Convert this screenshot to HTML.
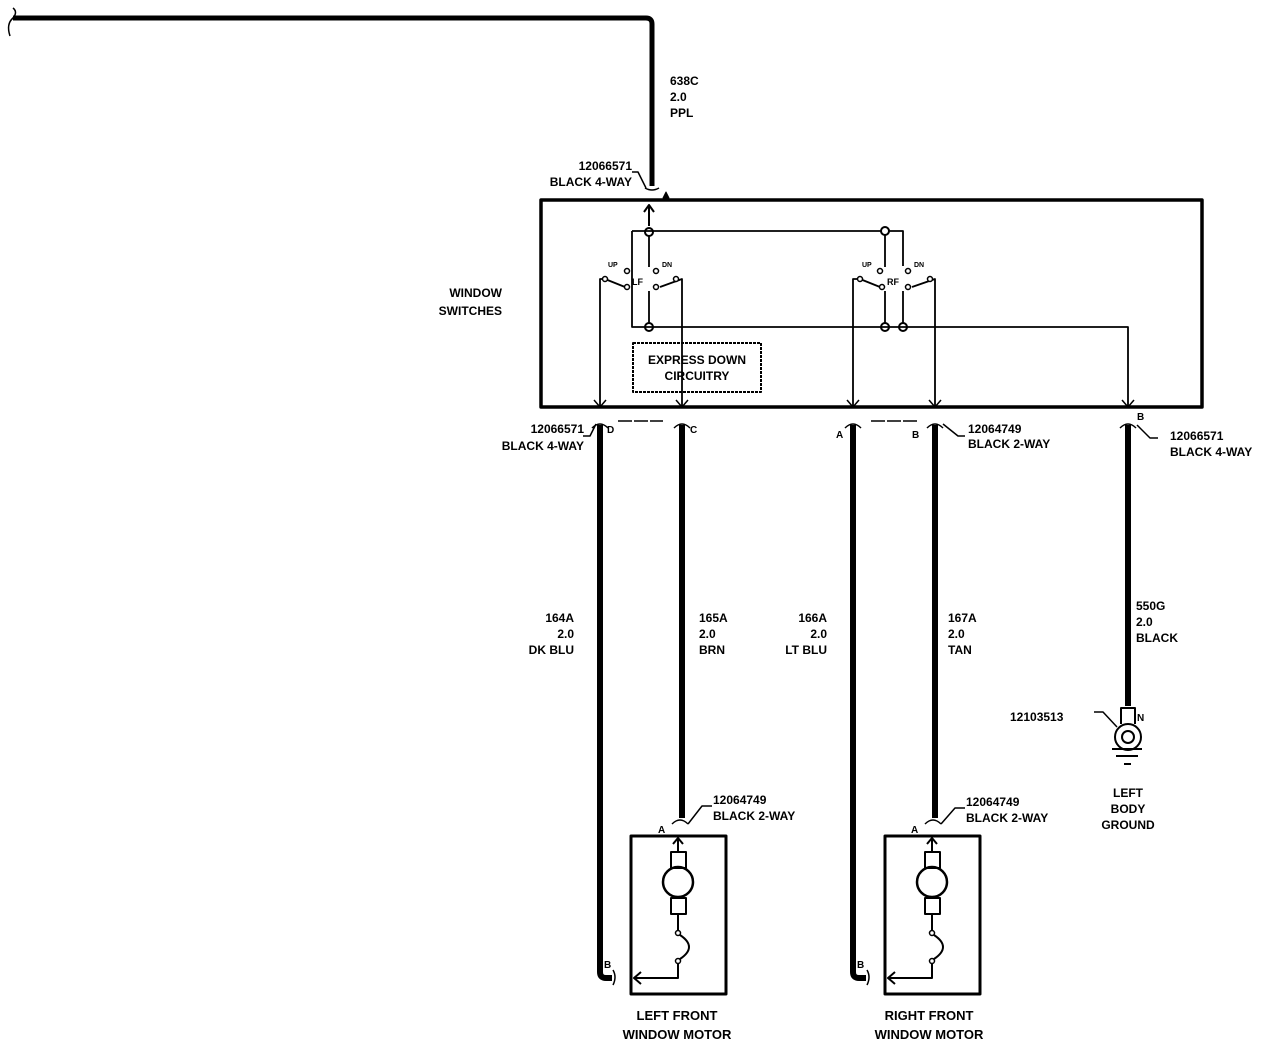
<!DOCTYPE html>
<html><head><meta charset="utf-8"><style>
html,body{margin:0;padding:0;background:#fff;}
svg{display:block}
text{font-family:"Liberation Sans",sans-serif;font-size:12px;font-weight:bold;fill:#000;}
</style></head><body>
<svg width="1280" height="1048" viewBox="0 0 1280 1048" xmlns="http://www.w3.org/2000/svg">
<g fill="none" stroke="#000" stroke-linejoin="round">
<path d="M13,18 H646 Q652,18 652,24 V186" stroke-width="5"/>
<path d="M13,8 Q18,12 13,18 M13,18 Q6,24 10,36" stroke-width="1.5"/>
<path d="M632,172 L638,172 L646,188 M645,188 Q652,192 659,188" stroke-width="1.5"/>
<path d="M663,198 L666,192 L669,198 Z" fill="#000" stroke-width="1"/>
<rect x="541" y="200" width="661" height="207" stroke-width="3.5"/>
<path d="M649,226 V207 M644,212 L649,205 L654,212" stroke-width="2"/>
<path d="M632,231 H881 M889,231 H903 V266" stroke-width="1.8"/>
<path d="M632,231 V327 H1128 V407" stroke-width="1.8"/>
<path d="M649,236 V267" stroke-width="1.8"/>
<path d="M600,407 V279 H605 L625,287 M682,407 V279 L660,287 M649,291 V323" stroke-width="1.8"/>
<path d="M885,235 V267 M853,407 V279 H860 L880,287 M935,407 V279 L912,287 M885,291 V323 M903,291 V323" stroke-width="1.8"/>
<circle cx="649" cy="232" r="4" stroke-width="2"/>
<circle cx="885" cy="231" r="4" stroke-width="2"/>
<circle cx="649" cy="327" r="4" stroke-width="2"/>
<circle cx="885" cy="327" r="4" stroke-width="2"/>
<circle cx="903" cy="327" r="4" stroke-width="2"/>
<g fill="#fff" stroke-width="1.5">
<circle cx="627" cy="271" r="2.5"/><circle cx="656" cy="271" r="2.5"/>
<circle cx="605" cy="279" r="2.5"/><circle cx="627" cy="287" r="2.5"/>
<circle cx="656" cy="287" r="2.5"/><circle cx="676" cy="279" r="2.5"/>
<circle cx="880" cy="271" r="2.5"/><circle cx="908" cy="271" r="2.5"/>
<circle cx="860" cy="279" r="2.5"/><circle cx="882" cy="287" r="2.5"/>
<circle cx="908" cy="287" r="2.5"/><circle cx="930" cy="279" r="2.5"/>
</g>
<rect x="633" y="343" width="128" height="49" stroke-width="2" stroke-dasharray="3,1"/>
<path d="M594,400 L600,407 L606,400 M676,400 L682,407 L688,400 M847,400 L853,407 L859,400 M929,400 L935,407 L941,400 M1122,400 L1128,407 L1134,400" stroke-width="1.5"/>
<path d="M592,428 Q600,420 608,428 M674,428 Q682,420 690,428 M845,428 Q853,420 861,428 M927,428 Q935,420 943,428 M1120,428 Q1128,420 1136,428" stroke-width="1.5"/>
<path d="M618,421 H663 M871,421 H918" stroke-width="1.5" stroke-dasharray="14,2"/>
<path d="M583,436 L590,436 L596,424 M943,424 L958,436 L965,436 M1137,425 L1150,438 L1158,438" stroke-width="1.5"/>
<path d="M600,425 V972 Q600,978 606,978 H612" stroke-width="6"/>
<path d="M682,425 V818" stroke-width="6"/>
<path d="M853,425 V972 Q853,978 859,978 H866" stroke-width="6"/>
<path d="M935,425 V818" stroke-width="6"/>
<path d="M1128,425 V706" stroke-width="6"/>
<path d="M613,970 Q617,977 613,985 M867,970 Q871,977 867,985" stroke-width="1.5"/>
<path d="M672,824 Q680,816 688,824 M925,824 Q933,816 941,824" stroke-width="1.5"/>
<path d="M688,824 L702,806 L712,806 M941,824 L955,808 L965,808" stroke-width="1.5"/>
<rect x="631" y="836" width="95" height="158" stroke-width="3"/>
<path d="M678,852 V839 M673,844 L678,838 L683,844" stroke-width="2"/>
<rect x="671" y="852" width="15" height="16" stroke-width="2"/>
<circle cx="678" cy="882" r="15" stroke-width="2.5"/>
<rect x="671" y="898" width="15" height="16" stroke-width="2"/>
<path d="M678,914 V931 M680,935 Q698,947 680,959 M678,963 V978 H635 M641,972 L634,978 L641,984" stroke-width="2"/>
<circle cx="678" cy="933" r="2.5" stroke-width="1.5"/><circle cx="678" cy="961" r="2.5" stroke-width="1.5"/>
<rect x="885" y="836" width="95" height="158" stroke-width="3"/>
<path d="M932,852 V839 M927,844 L932,838 L937,844" stroke-width="2"/>
<rect x="925" y="852" width="15" height="16" stroke-width="2"/>
<circle cx="932" cy="882" r="15" stroke-width="2.5"/>
<rect x="925" y="898" width="15" height="16" stroke-width="2"/>
<path d="M932,914 V931 M934,935 Q952,947 934,959 M932,963 V978 H889 M895,972 L888,978 L895,984" stroke-width="2"/>
<circle cx="932" cy="933" r="2.5" stroke-width="1.5"/><circle cx="932" cy="961" r="2.5" stroke-width="1.5"/>
<path d="M1121,724 V708 H1135 V724" stroke-width="2"/>
<circle cx="1128" cy="737" r="13" stroke-width="2"/>
<circle cx="1128" cy="737" r="6" stroke-width="2"/>
<path d="M1112,749 H1142 M1116,756 H1138 M1124,764 H1131" stroke-width="2"/>
<path d="M1094,712 L1103,712 L1117,727" stroke-width="1.5"/>
</g>
<g>
<text x="670" y="85">638C</text><text x="670" y="101">2.0</text><text x="670" y="117">PPL</text>
<text x="632" y="170" text-anchor="end">12066571</text><text x="632" y="186" text-anchor="end">BLACK 4-WAY</text>
<text x="502" y="297" text-anchor="end">WINDOW</text><text x="502" y="315" text-anchor="end">SWITCHES</text>
<text x="697" y="364" text-anchor="middle">EXPRESS DOWN</text><text x="697" y="380" text-anchor="middle">CIRCUITRY</text>
<text x="608" y="267" style="font-size:7px">UP</text><text x="662" y="267" style="font-size:7px">DN</text>
<text x="862" y="267" style="font-size:7px">UP</text><text x="914" y="267" style="font-size:7px">DN</text>
<text x="632" y="285" style="font-size:9px">LF</text><text x="887" y="285" style="font-size:9px">RF</text>
<text x="584" y="433" text-anchor="end">12066571</text><text x="584" y="450" text-anchor="end">BLACK 4-WAY</text>
<text x="607" y="433" style="font-size:10px">D</text><text x="690" y="433" style="font-size:10px">C</text>
<text x="836" y="438" style="font-size:10px">A</text><text x="912" y="438" style="font-size:10px">B</text>
<text x="968" y="433">12064749</text><text x="968" y="448">BLACK 2-WAY</text>
<text x="1137" y="420" style="font-size:10px">B</text>
<text x="1170" y="440">12066571</text><text x="1170" y="456">BLACK 4-WAY</text>
<text x="574" y="622" text-anchor="end">164A</text><text x="574" y="638" text-anchor="end">2.0</text><text x="574" y="654" text-anchor="end">DK BLU</text>
<text x="699" y="622">165A</text><text x="699" y="638">2.0</text><text x="699" y="654">BRN</text>
<text x="827" y="622" text-anchor="end">166A</text><text x="827" y="638" text-anchor="end">2.0</text><text x="827" y="654" text-anchor="end">LT BLU</text>
<text x="948" y="622">167A</text><text x="948" y="638">2.0</text><text x="948" y="654">TAN</text>
<text x="1136" y="610">550G</text><text x="1136" y="626">2.0</text><text x="1136" y="642">BLACK</text>
<text x="1010" y="721">12103513</text><text x="1137" y="721" style="font-size:10px">N</text>
<text x="1128" y="797" text-anchor="middle">LEFT</text><text x="1128" y="813" text-anchor="middle">BODY</text><text x="1128" y="829" text-anchor="middle">GROUND</text>
<text x="713" y="804">12064749</text><text x="713" y="820">BLACK 2-WAY</text>
<text x="966" y="806">12064749</text><text x="966" y="822">BLACK 2-WAY</text>
<text x="658" y="833" style="font-size:10px">A</text><text x="911" y="833" style="font-size:10px">A</text>
<text x="604" y="968" style="font-size:10px">B</text><text x="857" y="968" style="font-size:10px">B</text>
<text x="677" y="1020" text-anchor="middle" style="font-size:13px">LEFT FRONT</text><text x="677" y="1039" text-anchor="middle" style="font-size:13px">WINDOW MOTOR</text>
<text x="929" y="1020" text-anchor="middle" style="font-size:13px">RIGHT FRONT</text><text x="929" y="1039" text-anchor="middle" style="font-size:13px">WINDOW MOTOR</text>
</g>
</svg>
</body></html>
